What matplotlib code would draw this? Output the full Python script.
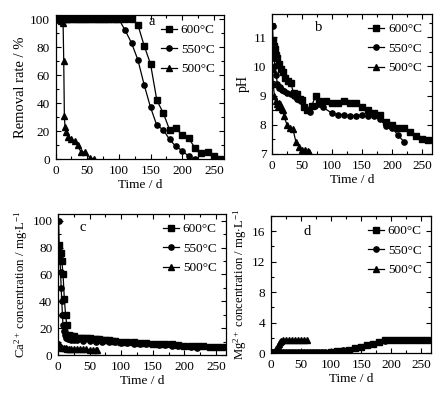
import matplotlib
matplotlib.use("Agg")
import matplotlib.pyplot as plt
from matplotlib.ticker import MultipleLocator

plt.rcParams['font.family'] = ['Liberation Serif', 'DejaVu Serif']
plt.rcParams['mathtext.fontset'] = 'custom'
plt.rcParams['mathtext.rm'] = 'Liberation Serif'
plt.rcParams['mathtext.it'] = 'Liberation Serif:italic'
plt.rcParams['font.size'] = 9.5

labels = ['600°C', '550°C', '500°C']
markers = ['s', 'o', '^']

# a: removal rate / %
early = [1, 3, 5, 7, 10, 13, 16, 20, 25, 30, 35, 40, 45, 50, 55, 60, 65, 70, 75, 80, 85, 90, 95, 100]
a600_x = early + [110, 120, 130, 140, 150, 160, 170, 180, 190, 200, 210, 220, 230, 240, 250, 260]
a600_y = [100] * len(early) + [100, 100, 96, 81, 68, 42, 33, 21, 22, 17, 15, 8, 4, 5, 2, 0]
a550_x = early + [110, 120, 130, 140, 150, 160, 170, 180, 190, 200, 210, 220]
a550_y = [100] * len(early) + [92, 83, 71, 53, 37, 24, 21, 14, 9, 6, 2, 0]
a500_x = [1, 3, 5, 7, 9, 12, 13, 14, 15, 17, 20, 25, 30, 35, 40, 47, 54, 60]
a500_y = [100, 100, 100, 100, 99, 97, 70, 31, 23, 19, 16, 14, 13, 10, 5, 5, 1, 0]

# b: pH
b600_x = [1, 3, 5, 7, 9, 12, 15, 18, 22, 26, 31, 36, 41, 46, 50, 54, 59, 66, 73, 78,
          90, 100, 110, 120, 130, 140, 150, 160, 170, 180, 190, 200, 210, 220, 230, 240, 250, 260]
b600_y = [10.9, 10.7, 10.6, 10.4, 10.3, 10.1, 9.9, 9.8, 9.6, 9.5, 9.45, 9.1, 9.05, 8.9, 8.85,
          8.6, 8.5, 8.65, 9.0, 8.8, 8.8, 8.75, 8.75, 8.8, 8.75, 8.75, 8.6, 8.5, 8.4, 8.35,
          8.1, 8.0, 7.9, 7.9, 7.75, 7.6, 7.5, 7.48]
b550_x = [1, 2, 3, 5, 7, 9, 11, 13, 16, 20, 25, 31, 36, 42, 48, 53, 58, 64, 71, 78, 85,
          100, 110, 120, 130, 140, 150, 160, 170, 180, 190, 200, 210, 220]
b550_y = [11.4, 10.6, 10.3, 10.0, 9.7, 9.4, 9.25, 9.3, 9.2, 9.15, 9.1, 9.05, 9.0, 8.9, 8.8,
          8.6, 8.5, 8.45, 8.65, 8.7, 8.6, 8.4, 8.35, 8.35, 8.3, 8.3, 8.35, 8.3, 8.3, 8.2,
          7.95, 7.9, 7.65, 7.42]
b500_x = [1, 2, 4, 6, 8, 10, 12, 14, 16, 18, 20, 25, 30, 35, 40, 45, 50, 55, 60, 62]
b500_y = [9.9, 9.4, 9.0, 8.8, 8.7, 8.6, 8.75, 8.7, 8.55, 8.5, 8.3, 8.0, 7.9, 7.85, 7.4,
          7.25, 7.15, 7.12, 7.1, 7.08]

# c: Ca2+ / mg L-1
c600_x = [2, 4, 6, 8, 10, 12, 14, 17, 20, 25, 30, 35, 40, 45, 50, 55, 60, 65, 70, 75, 80,
          85, 90, 100, 110, 120, 130, 140, 150, 160, 170, 180, 190, 200, 210, 220, 230,
          240, 250, 260]
c600_y = [82, 76, 70, 60, 42, 30, 22, 15, 14, 14, 13, 13, 13, 12.5, 12.5, 12, 12, 12, 11.5,
          11, 11, 10.5, 10.5, 10, 10, 9.5, 9, 9, 8.5, 8.5, 8, 8, 7.5, 7, 7, 6.5, 6.5, 6, 6, 6]
c550_x = [1, 2, 3, 4, 5, 6, 7, 8, 9, 11, 13, 16, 20, 25, 30, 40, 50, 60, 70, 80, 90, 100,
          110, 120, 130, 140, 150, 160, 170, 180, 190, 200, 210, 220]
c550_y = [100, 80, 72, 62, 50, 40, 30, 22, 18, 15, 13, 12, 11.5, 11, 11, 10.5, 10.5, 10,
          10, 10, 9.5, 9, 9, 8.5, 8.5, 8, 8, 7.5, 7.5, 7, 7, 6.5, 6, 5]
c500_x = [1, 3, 5, 7, 9, 12, 15, 18, 21, 25, 30, 35, 40, 45, 50, 55, 60, 62]
c500_y = [8, 7, 6, 5.5, 5, 5, 4.5, 4.5, 4.5, 4.5, 4.5, 4.5, 4.5, 4.5, 4, 4, 4, 3.8]

# d: Mg2+ / mg L-1
d600_x = [1, 5, 10, 20, 30, 40, 50, 60, 70, 80, 90, 100, 110, 120, 130, 140, 150, 160,
          170, 180, 190, 200, 210, 220, 230, 240, 250, 260]
d600_y = [0, 0, 0, 0, 0, 0, 0, 0, 0, 0, 0.05, 0.1, 0.2, 0.3, 0.45, 0.6, 0.8, 1.0, 1.2,
          1.45, 1.65, 1.7, 1.75, 1.75, 1.75, 1.75, 1.75, 1.75]
d550_x = [1, 5, 10, 15, 20, 25, 30, 35, 40, 45, 50, 55, 60, 65, 70, 75, 80, 85, 90, 100,
          110, 120, 130, 140, 150, 160, 170, 180, 190, 200, 210, 220]
d550_y = [0.1, 0.1, 0.1, 0.1, 0.1, 0.1, 0.1, 0.1, 0.1, 0.1, 0.1, 0.1, 0.1, 0.1, 0.1, 0.1,
          0.1, 0.1, 0.1, 0.15, 0.25, 0.35, 0.45, 0.6, 0.8, 1.0, 1.2, 1.45, 1.6, 1.7, 1.7, 1.7]
d500_x = [1, 3, 5, 7, 9, 11, 13, 15, 17, 20, 25, 30, 35, 40, 45, 50, 55, 60]
d500_y = [0, 0, 0.1, 0.2, 0.5, 0.9, 1.2, 1.4, 1.6, 1.65, 1.7, 1.7, 1.7, 1.7, 1.7, 1.7, 1.7, 1.7]

W, H = 448, 396
fig = plt.figure(figsize=(W / 100, H / 100), dpi=100)


def box(l, r, t, b):
    return [l / W, 1 - b / H, (r - l) / W, (b - t) / H]


panels = [
    (box(55.5, 224, 15, 159), [(a600_x, a600_y), (a550_x, a550_y), (a500_x, a500_y)],
     (0, 103), 20, 10, 'Removal rate / %', 10.5, 'a', (0.55, 0.93)),
    (box(272, 431.5, 14, 154), [(b600_x, b600_y), (b550_x, b550_y), (b500_x, b500_y)],
     (7, 11.8), 1, 0.5, 'pH', 10, 'b', (0.27, 0.88)),
    (box(58, 226, 214, 355), [(c600_x, c600_y), (c550_x, c550_y), (c500_x, c500_y)],
     (0, 105), 20, 10, 'Ca$^{2+}$ concentration / mg$\\cdot$L$^{-1}$', 9.2, 'c', (0.13, 0.88)),
    (box(271, 431, 216, 353), [(d600_x, d600_y), (d550_x, d550_y), (d500_x, d500_y)],
     (0, 18), 4, 2, 'Mg$^{2+}$ concentration / mg$\\cdot$L$^{-1}$', 9.2, 'd', (0.2, 0.86)),
]

for rect, series, ylim, major, minor, ylabel, ysize, letter, lpos in panels:
    ax = fig.add_axes(rect)
    for (x, y), m, lab in zip(series, markers, labels):
        ax.plot(x, y, color='black', marker=m, ms=3.8, lw=0.9, label=lab)
    ax.set_xlim(0, 266)
    ax.set_ylim(*ylim)
    ax.xaxis.set_major_locator(MultipleLocator(50))
    ax.xaxis.set_minor_locator(MultipleLocator(25))
    ax.yaxis.set_major_locator(MultipleLocator(major))
    ax.yaxis.set_minor_locator(MultipleLocator(minor))
    ax.tick_params(which='both', direction='in', top=True, right=True, width=0.8)
    ax.tick_params(which='major', length=3.5, pad=4)
    ax.tick_params(which='minor', length=2)
    for s in ax.spines.values():
        s.set_linewidth(0.9)
    ax.set_xlabel('Time / d', labelpad=2)
    ax.set_ylabel(ylabel, labelpad=2, fontsize=ysize)
    ax.text(lpos[0], lpos[1], letter, transform=ax.transAxes, fontsize=10.5)
    ax.legend(loc='upper right', frameon=False, handlelength=1.2, handletextpad=0.3,
              labelspacing=0.55, borderaxespad=0.3, fontsize=9.5)

fig.savefig('out.png', dpi=100)
